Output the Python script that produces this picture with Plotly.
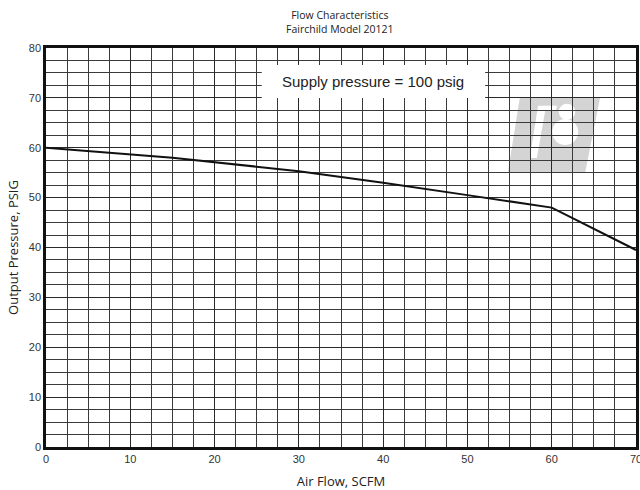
import plotly.graph_objects as go

air_flow = [0, 10, 15, 30, 40, 50, 60, 70]
output_pressure = [60, 58.7, 58, 55.3, 53, 50.5, 48, 39.5]

x_ticks = [0, 10, 20, 30, 40, 50, 60, 70]
y_ticks = [0, 10, 20, 30, 40, 50, 60, 70, 80]

title_text = "Flow Characteristics<br>Fairchild Model 20121"
x_title = "Air Flow, SCFM"
y_title = "Output Pressure, PSIG"
note_text = "Supply pressure = 100 psig"

fig = go.Figure()
fig.add_trace(go.Scatter(x=air_flow, y=output_pressure, mode="lines",
                         line=dict(color="#111", width=2), showlegend=False,
                         hoverinfo="skip"))

axis_common = dict(showgrid=True, gridcolor="#2a2a2a", gridwidth=1, automargin=False,
                   zeroline=False, showline=True, linecolor="#111", linewidth=2.5,
                   mirror=True, ticks="", ticklabeloverflow="allow",
                   tickfont=dict(family="Liberation Sans", size=11, color="#333"),
                   minor=dict(dtick=2.5, showgrid=True, gridcolor="#3a3a3a", gridwidth=1))

fig.update_xaxes(range=[0, 70], tickvals=x_ticks, **axis_common,
                 title=dict(text=x_title, font=dict(family="Open Sans", size=13, color="#222"), standoff=23))
fig.update_yaxes(range=[0, 80], tickvals=y_ticks, **axis_common,
                 title=dict(text=y_title, font=dict(family="Open Sans", size=13, color="#222"), standoff=8))

# Logo (background watermark)
fig.add_shape(type="path", xref="paper", yref="paper", layer="below",
              path="M 0.803 0.875 L 0.939 0.875 L 0.914 0.689 L 0.783 0.689 Z",
              fillcolor="#d4d4d4", line=dict(width=0))
fig.add_shape(type="path", xref="paper", yref="paper", layer="below",
              path="M 0.834 0.855 L 0.866 0.855 L 0.864 0.842 L 0.846 0.842 L 0.832 0.724 L 0.820 0.724 Z",
              fillcolor="white", line=dict(width=0))
fig.add_shape(type="circle", xref="paper", yref="paper", layer="below",
              x0=0.858, x1=0.902, y0=0.757, y1=0.822, fillcolor="white", line=dict(width=0))
fig.add_shape(type="circle", xref="paper", yref="paper", layer="below",
              x0=0.869, x1=0.897, y0=0.820, y1=0.860, fillcolor="white", line=dict(width=0))

# Note box
fig.add_shape(type="rect", x0=25.6, x1=52.1, y0=70.0, y1=76.6,
              fillcolor="white", line=dict(width=0), layer="above")
fig.add_annotation(x=38.8, y=73.3, text=note_text, showarrow=False,
                   font=dict(family="Liberation Sans", size=15, color="#222"))

fig.update_layout(
    width=640, height=490,
    margin=dict(l=46, r=4, t=48, b=43),
    paper_bgcolor="white", plot_bgcolor="white",
    title=dict(text=title_text, x=0.531, xanchor="center", xref="container",
               y=1 - 19 / 490, yref="container", yanchor="top",
               font=dict(family="Open Sans", size=10.5, color="#222")),
)

fig.write_html("out.html")
